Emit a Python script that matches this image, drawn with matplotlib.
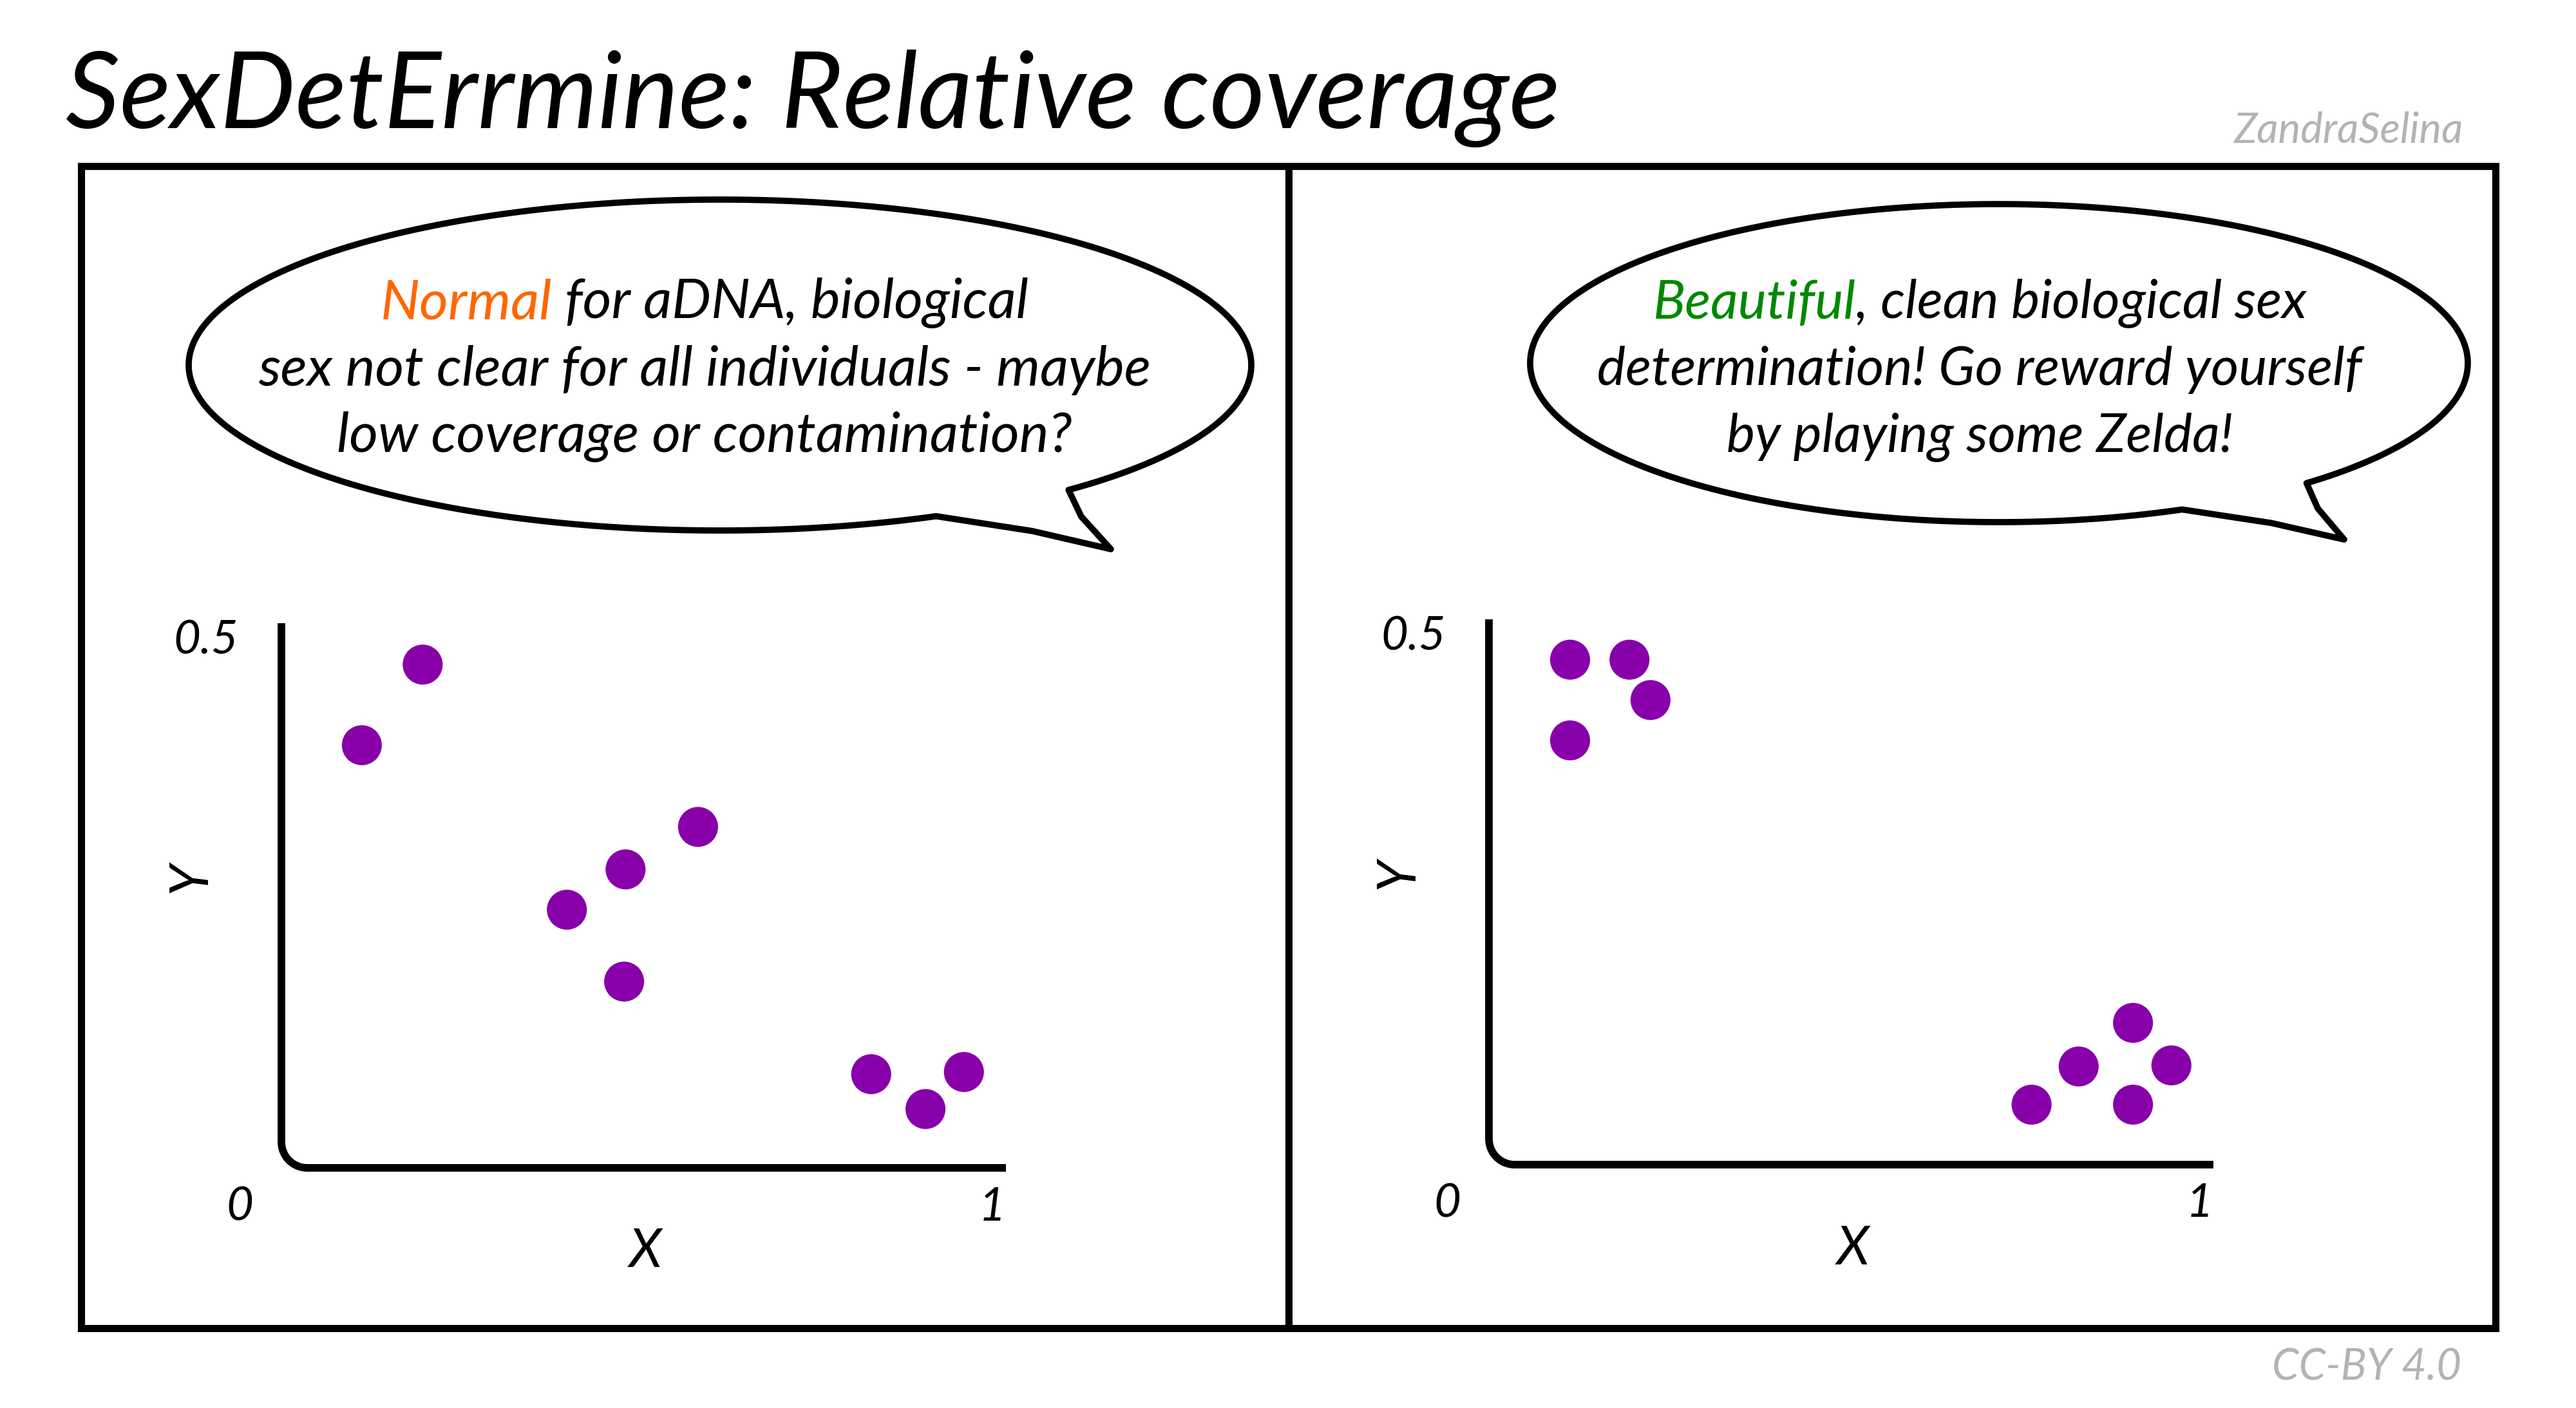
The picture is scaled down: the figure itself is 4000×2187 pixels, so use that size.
import numpy as np
import matplotlib
matplotlib.use("Agg")
import matplotlib.pyplot as plt
from matplotlib.path import Path
from matplotlib.patches import PathPatch, Rectangle

# canvas size in pixels (dpi 100)
W, H = 4000, 2187

title = "SexDetErrmine: Relative coverage"
author = "ZandraSelina"
license_txt = "CC-BY 4.0"

# relative coverage (x: 0..1, y: 0..0.5)
left_x = [0.195, 0.111, 0.575, 0.475, 0.394, 0.473, 0.814, 0.889, 0.942]
left_y = [0.462, 0.388, 0.313, 0.274, 0.237, 0.171, 0.086, 0.054, 0.088]
right_x = [0.112, 0.194, 0.223, 0.112, 0.889, 0.814, 0.942, 0.749, 0.889]
right_y = [0.463, 0.463, 0.426, 0.389, 0.130, 0.090, 0.091, 0.055, 0.055]

x_ticks = ["0", "1"]
y_top_tick = "0.5"
x_label, y_label = "X", "Y"

# speech bubble lines: (highlighted word, rest of the line)
left_lines = [("Normal", " for aDNA, biological"),
              ("", "sex not clear for all individuals - maybe"),
              ("", "low coverage or contamination?")]
right_lines = [("Beautiful", ", clean biological sex"),
               ("", "determination! Go reward yourself"),
               ("", "by playing some Zelda!")]

dot_color = "#8800aa"
orange = "#ff6600"
green = "#008800"
grey = "#b3b3b3"

plt.rcParams['font.family'] = ['Lato', 'DejaVu Sans']
FS = dict(style='italic')

fig = plt.figure(figsize=(W / 100, H / 100), dpi=100)
fig.patch.set_facecolor('white')

# background axes in pixel coordinates for the comic decorations
bg = fig.add_axes([0, 0, 1, 1])
bg.set_xlim(0, W)
bg.set_ylim(H, 0)
bg.axis('off')

# title and credits
bg.text(102, 199, title, fontsize=119, va='baseline', ha='left', **FS)
bg.text(3825, 222, author, fontsize=47, color=grey, va='baseline', ha='right', **FS)
bg.text(3822, 2143, license_txt, fontsize=48, color=grey, va='baseline', ha='right', **FS)

# panel frame
bg.add_patch(Rectangle((126, 258), 3749, 1805, fill=False, lw=8, ec='black',
                       joinstyle='miter'))
bg.plot([2001, 2001], [258, 2063], color='black', lw=8, solid_capstyle='butt')


def bubble(cx, cy, rx, ry, a_right, a_bottom, tip):
    t = np.radians(np.linspace(a_bottom, a_right + 360, 500))
    xs = list(cx + rx * np.cos(t))
    ys = list(cy + ry * np.sin(t))
    # tail: right junction -> tip -> back to bottom junction
    x_end, y_end = xs[-1], ys[-1]
    x_start, y_start = xs[0], ys[0]
    xs += [x_end + 0.3 * (tip[0] - x_end), tip[0],
           tip[0] - 0.45 * (tip[0] - x_start), x_start]
    ys += [y_end + 0.45 * (tip[1] - y_end), tip[1],
           tip[1] - 0.55 * (tip[1] - y_start), y_start]
    verts = np.column_stack([xs, ys])
    codes = [Path.MOVETO] + [Path.LINETO] * (len(verts) - 2) + [Path.CLOSEPOLY]
    bg.add_patch(PathPatch(Path(verts, codes), fc='white', ec='black', lw=7,
                           joinstyle='round'))


bubble(1118, 567, 825, 257, 49, 66, (1725, 853))
bubble(3104, 564, 728, 247, 49, 67, (3640, 838))

renderer = fig.canvas.get_renderer()


def speech(lines, accent, cx, y0, dy, size):
    for i, (word, rest) in enumerate(lines):
        y = y0 + i * dy
        full = bg.text(cx, y, word + rest, fontsize=size, ha='center', va='center',
                       alpha=0, **FS)
        ext = full.get_window_extent(renderer)
        if word:
            bg.text(ext.x0, y, word, fontsize=size, color=accent, ha='left',
                    va='center', **FS)
            bg.text(ext.x1, y, rest, fontsize=size, ha='right', va='center', **FS)
        else:
            bg.text(cx, y, rest, fontsize=size, ha='center', va='center', **FS)


speech(left_lines, orange, 1094, 471, 104, 62)
speech(right_lines, green, 3074, 471, 104, 60)


def panel(rect, xs, ys):
    ax = fig.add_axes(rect)
    ax.set_xlim(0, 1)
    ax.set_ylim(0, 0.5)
    ax.patch.set_alpha(0)
    for s in ax.spines.values():
        s.set_visible(False)
    ax.set_xticks([])
    ax.set_yticks([])
    # hand-drawn style axes with a rounded corner
    w_px, h_px = rect[2] * W, rect[3] * H
    r = 40
    th = np.linspace(np.pi, 1.5 * np.pi, 20)
    cxr, cyr = r / w_px, r / h_px
    ax_x = [0, 0] + list(cxr + cxr * np.cos(th)) + [1]
    ax_y = [1, cyr] + list(cyr + cyr * np.sin(th)) + [0]
    ax.plot(ax_x, ax_y, color='black', lw=8.5, transform=ax.transAxes,
            clip_on=False, solid_capstyle='butt')
    ax.scatter(xs, ys, s=2000, color=dot_color, edgecolors='none', clip_on=False,
               zorder=3)
    kw = dict(xycoords='axes fraction', textcoords='offset pixels', **FS)
    ax.annotate(x_ticks[0], xy=(0, 0), xytext=(-65, -61), fontsize=52,
                ha='center', va='center', **kw)
    ax.annotate(x_ticks[1], xy=(1, 0), xytext=(-21, -61), fontsize=52,
                ha='center', va='center', **kw)
    ax.annotate(y_top_tick, xy=(0, 1), xytext=(-67, -27), fontsize=52,
                ha='right', va='center', **kw)
    ax.annotate(x_label, xy=(0.5, 0), xytext=(3, -131), fontsize=60,
                ha='center', va='center', **kw)
    ax.annotate(y_label, xy=(0, 1), xytext=(-141, -395), fontsize=60,
                ha='center', va='center', rotation=90, **kw)
    return ax


panel([437 / W, 1 - 1814 / H, 1125 / W, 846 / H], left_x, left_y)
panel([2312 / W, 1 - 1809 / H, 1125 / W, 847 / H], right_x, right_y)

fig.savefig("out.png", dpi=100)
